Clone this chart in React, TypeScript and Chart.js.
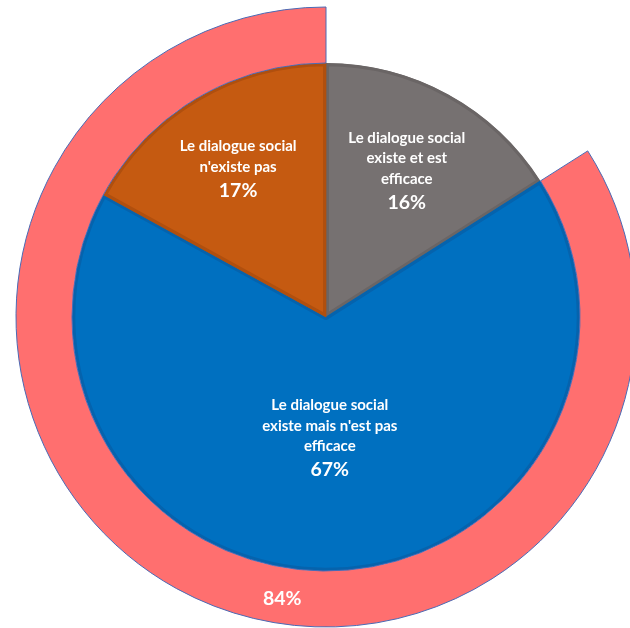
import React, { useEffect, useRef } from "react";
import { Chart, registerables } from "chart.js";

Chart.register(...registerables);

// ---- data ----
const categories = [
  "Le dialogue social existe et est efficace",
  "Le dialogue social existe mais n'est pas efficace",
  "Le dialogue social n'existe pas",
];
const values = [16, 67, 17];
const labelLines = [
  ["Le dialogue social", "existe et est", "efficace"],
  ["Le dialogue social", "existe mais n'est pas", "efficace"],
  ["Le dialogue social", "n'existe pas"],
];
const percentLabels = ["16%", "67%", "17%"];

const ringCategories = ["", "Le dialogue social existe mais n'est pas efficace + n'existe pas"];
const ringValues = [16, 84];
const ringLabels = ["", "84%"];

// ---- styles ----
const sliceColors = ["#767171", "#0070C0", "#C55A11"];
const sliceBorders = ["#6A6565", "#0563AD", "#B04F0E"];
const ringColors = ["rgba(0,0,0,0)", "#FF6F6F"];
const ringBorders = ["rgba(0,0,0,0)", "#4A6AB5"];
// label placement (fraction along arc angle, fraction of radius)
const sliceLabelPos = [
  { a: 0.5, r: 0.66 },
  { a: 0.5, r: 0.475 },
  { a: 0.5, r: 0.68 },
];
const ringLabelPos = [null, { a: 0.434, r: 0.55 }];

const FONT = "Lato, 'Open Sans', 'DejaVu Sans', sans-serif";

const labelPlugin = {
  id: "sliceLabels",
  afterDatasetsDraw(chart: any) {
    const ctx = chart.ctx;
    ctx.save();
    ctx.fillStyle = "#FFFFFF";
    ctx.textAlign = "center";
    ctx.textBaseline = "middle";
    const pieMeta = chart.getDatasetMeta(1);
    pieMeta.data.forEach((arc: any, i: number) => {
      const p = arc.getProps(["x", "y", "startAngle", "endAngle", "innerRadius", "outerRadius"], true);
      const pos = sliceLabelPos[i];
      const ang = p.startAngle + (p.endAngle - p.startAngle) * pos.a;
      const rr = p.innerRadius + (p.outerRadius - p.innerRadius) * pos.r;
      const cx = p.x + Math.cos(ang) * rr;
      const cy = p.y + Math.sin(ang) * rr;
      const lines = labelLines[i];
      const lh = 20.5;
      const pctGap = 23.5;
      const total = (lines.length - 1) * lh + pctGap;
      let y = cy - total / 2;
      ctx.font = `bold 15px ${FONT}`;
      lines.forEach((t) => {
        ctx.fillText(t, cx, y);
        y += lh;
      });
      y += pctGap - lh;
      ctx.font = `bold 19.5px ${FONT}`;
      ctx.fillText(percentLabels[i], cx, y);
    });
    const ringMeta = chart.getDatasetMeta(0);
    ringMeta.data.forEach((arc: any, i: number) => {
      const pos = ringLabelPos[i];
      if (!pos || !ringLabels[i]) return;
      const p = arc.getProps(["x", "y", "startAngle", "endAngle", "innerRadius", "outerRadius"], true);
      const ang = p.startAngle + (p.endAngle - p.startAngle) * pos.a;
      const rr = p.innerRadius + (p.outerRadius - p.innerRadius) * pos.r;
      ctx.font = `bold 19.5px ${FONT}`;
      ctx.fillText(ringLabels[i], p.x + Math.cos(ang) * rr, p.y + Math.sin(ang) * rr);
    });
    ctx.restore();
  },
};

export default function App() {
  const ref = useRef<HTMLCanvasElement | null>(null);
  useEffect(() => {
    if (!ref.current) return;
    const chart = new Chart(ref.current, {
      type: "pie",
      data: {
        labels: categories,
        datasets: [
          {
            label: "ring",
            data: ringValues,
            backgroundColor: ringColors,
            borderColor: ringBorders,
            borderWidth: [0, 1],
            weight: 56,
            clip: false,
          } as any,
          {
            label: "pie",
            data: values,
            backgroundColor: sliceColors,
            borderColor: sliceBorders,
            borderWidth: 3,
            borderAlign: "inner",
            weight: 254,
            clip: false,
          } as any,
        ],
      },
      options: {
        animation: false,
        responsive: true,
        maintainAspectRatio: false,
        radius: 310,
        cutout: 0,
        layout: { padding: { left: 22, right: 0, top: 6, bottom: 0 } },
        plugins: {
          legend: { display: false },
          tooltip: { enabled: false },
        },
        events: [],
      } as any,
      plugins: [labelPlugin],
    });
    return () => chart.destroy();
  }, []);
  return (
    <div style={{ position: "fixed", left: 0, top: 0, width: 630, height: 628, background: "#fff" }}>
      <canvas ref={ref} />
    </div>
  );
}
